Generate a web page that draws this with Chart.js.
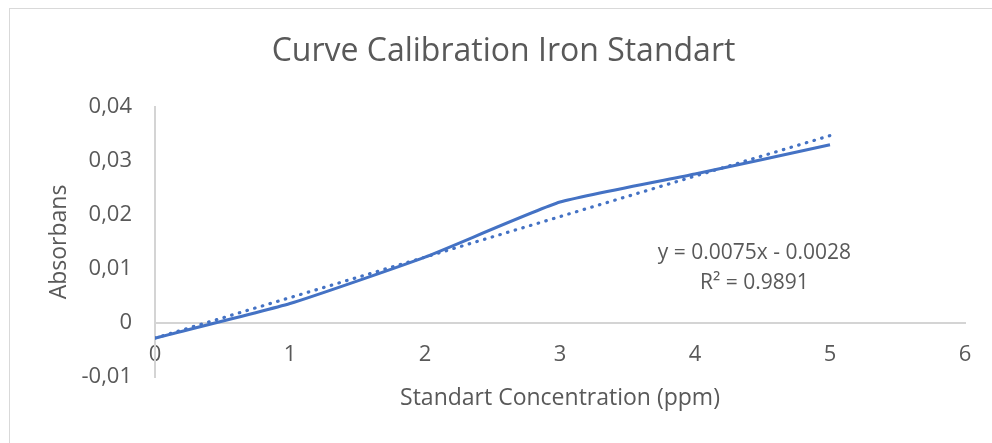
<!DOCTYPE html>
<html>
<head>
<meta charset="utf-8">
<script src="https://cdn.jsdelivr.net/npm/chart.js@4.4.1/dist/chart.umd.min.js"></script>
<style>
    html, body { margin: 0; padding: 0; background: #fff; }
    #wrap { position: relative; width: 992px; height: 443px; overflow: hidden; }
    #frame { position: absolute; left: 9px; top: 8px; width: 1200px; height: 600px;
             border-left: 1px solid #d9d9d9; border-top: 1px solid #d9d9d9; }
    canvas { position: absolute; left: 0; top: 0; }
</style>
</head>
<body>
<div id="wrap">
    <div id="frame"></div>
    <canvas id="chart" width="992" height="443"></canvas>
</div>
<script>
// Data
const concentration = [0, 1, 2, 3, 4, 5];
const absorbance = [-0.0028, 0.0036, 0.0122, 0.0224, 0.0276, 0.033];
// Linear trendline endpoints (y = 0.0075x - 0.0028)
const trendX = [0, 5];
const trendY = [-0.0028, 0.0347];
const xTicks = [0, 1, 2, 3, 4, 5, 6];
const yTicks = [-0.01, 0, 0.01, 0.02, 0.03, 0.04];
const equationLines = ['y = 0.0075x - 0.0028', 'R\u00B2 = 0.9891'];

const textColor = '#595959';
const axisColor = '#d4d4d4';
const lineColor = '#4472C4';
const fontFamily = '"Open Sans", "Noto Sans", sans-serif';

const toPoints = (xs, ys) => xs.map((x, i) => ({ x: x, y: ys[i] }));

const fmtY = v => {
    const r = Math.round(v * 100) / 100;
    if (r === 0) return '0';
    return r.toFixed(2).replace('.', ',');
};

// draws the trendline equation text next to the line
const equationPlugin = {
    id: 'equation',
    afterDatasetsDraw(chart, args, opts) {
        const { ctx, scales } = chart;
        const px = scales.x.getPixelForValue(opts.x);
        const py = scales.y.getPixelForValue(opts.y);
        ctx.save();
        ctx.fillStyle = textColor;
        ctx.font = '21px ' + fontFamily;
        ctx.textAlign = 'center';
        ctx.textBaseline = 'middle';
        equationLines.forEach((line, i) => ctx.fillText(line, px, py + i * 30));
        ctx.restore();
    }
};

new Chart(document.getElementById('chart'), {
    type: 'scatter',
    data: {
        datasets: [{
            label: 'Absorbans',
            data: toPoints(concentration, absorbance),
            showLine: true,
            borderColor: lineColor,
            backgroundColor: lineColor,
            borderWidth: 3,
            tension: 0.15,
            pointRadius: 0
        }, {
            label: 'Linear',
            data: toPoints(trendX, trendY),
            showLine: true,
            borderColor: lineColor,
            borderWidth: 3.2,
            borderDash: [0.5, 7.5],
            borderCapStyle: 'round',
            pointRadius: 0
        }]
    },
    options: {
        responsive: false,
        animation: false,
        layout: { padding: { left: 42, right: 27, top: 0, bottom: 27.2 } },
        plugins: {
            legend: { display: false },
            tooltip: { enabled: false },
            title: {
                display: true,
                text: 'Curve Calibration Iron Standart',
                color: textColor,
                font: { family: fontFamily, size: 32, weight: 'normal' },
                padding: { top: 32.8, bottom: 35.8 }
            },
            equation: { x: 4.44, y: 0.0129 }
        },
        scales: {
            x: {
                type: 'linear',
                min: 0,
                max: 6,
                grid: { display: false, drawTicks: false },
                border: { display: false },
                ticks: { display: false },
                title: {
                    display: true,
                    text: 'Standart Concentration (ppm)',
                    color: textColor,
                    font: { family: fontFamily, size: 23 }
                },
                afterFit: s => { s.height = 38.8; }
            },
            x2: {
                type: 'linear',
                axis: 'x',
                position: { y: 0 },
                min: 0,
                max: 6,
                grid: { display: false, drawTicks: false },
                border: { display: true, color: axisColor, width: 2 },
                afterBuildTicks: s => { s.ticks = xTicks.map(v => ({ value: v })); },
                ticks: {
                    color: textColor,
                    padding: 18.8,
                    font: { family: fontFamily, size: 22 }
                }
            },
            y: {
                type: 'linear',
                min: -0.01,
                max: 0.04,
                grid: { display: false, drawTicks: false },
                border: { display: true, color: axisColor, width: 2 },
                afterBuildTicks: s => { s.ticks = yTicks.map(v => ({ value: v })); },
                ticks: {
                    color: textColor,
                    padding: 23,
                    font: { family: fontFamily, size: 22 },
                    callback: v => fmtY(v)
                },
                title: {
                    display: true,
                    text: 'Absorbans',
                    color: textColor,
                    font: { family: fontFamily, size: 23 }
                },
                afterFit: s => { s.width = 113; }
            }
        }
    },
    plugins: [equationPlugin]
});
</script>
</body>
</html>
